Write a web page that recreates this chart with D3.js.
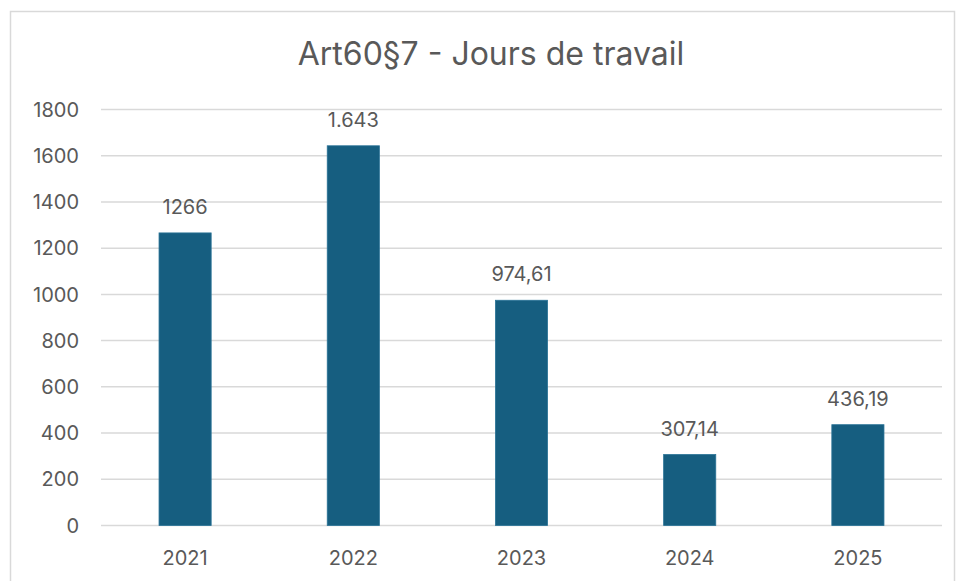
<!DOCTYPE html>
<html>
<head>
<meta http-equiv="Content-Type" content="text/html; charset=UTF-8">
<style>
body { margin: 0; background: #fff; }
text { font-family: Inter, "Open Sans", sans-serif; fill: #595959; }
.grid line { stroke: #d9d9d9; stroke-width: 1.5px; }
.bar { fill: #165e80; stroke: #2a7396; stroke-width: 0.8px; }
</style>
</head>
<body>
<svg width="958" height="581"></svg>
<script src="https://cdn.jsdelivr.net/npm/d3@7"></script>
<script>

var years = ["2021", "2022", "2023", "2024", "2025"];
var values = [1266, 1643, 974.61, 307.14, 436.19];
var valueLabels = ["1266", "1.643", "974,61", "307,14", "436,19"];
var yTicks = [0, 200, 400, 600, 800, 1000, 1200, 1400, 1600, 1800];
var title = "Art60§7 - Jours de travail";

var svg = d3.select("svg");

// chart frame
svg.append("rect")
    .attr("x", 10.5).attr("y", 11.5)
    .attr("width", 944).attr("height", 580)
    .attr("fill", "#fff")
    .attr("stroke", "#d9d9d9")
    .attr("stroke-width", 1.5);

var plotLeft = 101, plotRight = 942, plotTop = 109.5, plotBottom = 525.5;

var x = d3.scaleBand()
    .domain(years)
    .range([plotLeft, plotRight])
    .paddingInner(0.69)
    .paddingOuter(0.345);

var y = d3.scaleLinear()
    .domain([0, 1800])
    .range([plotBottom, plotTop]);

svg.append("text")
    .attr("x", 491)
    .attr("y", 65)
    .attr("text-anchor", "middle")
    .style("font-size", "32px")
    .text(title);

// gridlines
svg.append("g")
    .attr("class", "grid")
    .selectAll("line")
    .data(yTicks)
  .enter().append("line")
    .attr("x1", plotLeft).attr("x2", plotRight)
    .attr("y1", function(d) { return y(d); })
    .attr("y2", function(d) { return y(d); });

// y labels
svg.append("g")
    .selectAll("text")
    .data(yTicks)
  .enter().append("text")
    .attr("x", 79)
    .attr("y", function(d) { return y(d); })
    .attr("dy", "0.36em")
    .attr("text-anchor", "end")
    .style("font-size", "20px")
    .text(function(d) { return d; });

// bars
svg.append("g")
    .selectAll("rect")
    .data(values)
  .enter().append("rect")
    .attr("class", "bar")
    .attr("x", function(d, i) { return x(years[i]); })
    .attr("y", function(d) { return y(d); })
    .attr("width", x.bandwidth())
    .attr("height", function(d) { return y(0) - y(d); });

// value labels
svg.append("g")
    .selectAll("text")
    .data(values)
  .enter().append("text")
    .attr("x", function(d, i) { return x(years[i]) + x.bandwidth() / 2; })
    .attr("y", function(d) { return y(d) - 19; })
    .attr("text-anchor", "middle")
    .style("font-size", "20px")
    .text(function(d, i) { return valueLabels[i]; });

// x labels
svg.append("g")
    .selectAll("text")
    .data(years)
  .enter().append("text")
    .attr("x", function(d) { return x(d) + x.bandwidth() / 2; })
    .attr("y", 565)
    .attr("text-anchor", "middle")
    .style("font-size", "20px")
    .text(function(d) { return d; });

</script>
</body>
</html>
